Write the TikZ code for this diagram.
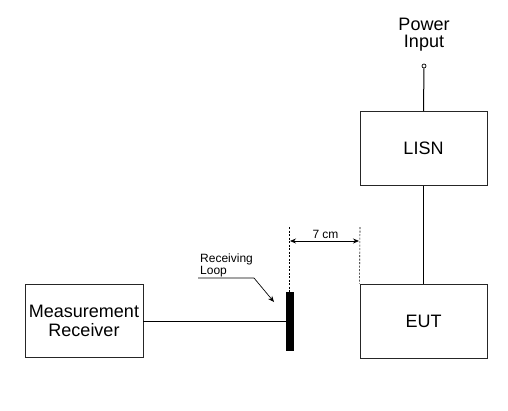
\documentclass[tikz,border=0pt]{standalone}
\usepackage{fontspec}
\setmainfont{Liberation Sans}
\usetikzlibrary{arrows.meta}
\begin{document}
\begin{tikzpicture}[x=1pt,y=-1pt,
  box/.style={draw=black!85,line width=0.9pt,minimum width=127pt,minimum height=74pt,inner sep=0pt,font=\fontsize{18}{19}\selectfont,align=center},
  wire/.style={draw=black,line width=1pt},
  dim/.style={draw=black,line width=0.6pt,dash pattern=on 2pt off 1.5pt},
  lbl/.style={font=\fontsize{12}{12.5}\selectfont,inner sep=0pt}]
\useasboundingbox (0,0) rectangle (508,410);
\node[box,minimum width=118pt,minimum height=73pt] (mr) at (84,320.5) {Measurement\\Receiver};
\node[box] (lisn) at (423.5,148.5) {LISN};
\node[box] (eut) at (423.5,321) {EUT};
\node[draw=black,line width=0.7pt,circle,inner sep=0pt,minimum size=4pt] (pin) at (424,66) {};
\node[font=\fontsize{18}{17}\selectfont,align=center,inner sep=0pt] (pwr) at (424,35) {Power\\Input};
\node[fill=black,inner sep=0pt,minimum width=8pt,minimum height=59pt] (loop) at (290,321.5) {};
\draw[wire] (pin) -- (lisn.north);
\draw[wire] (lisn.south) -- (eut.north);
\draw[wire] (mr.east |- loop.west) -- (loop.west);
\coordinate (dl) at (289,227);
\coordinate (dr) at (360,227);
\draw[dim] (dl) -- (loop.north -| dl);
\draw[dim] (dr) -- (eut.north west);
\coordinate (al) at (290,241);
\coordinate (ar) at (359,241);
\draw[line width=0.8pt,{Stealth[length=6pt,width=5pt]}-{Stealth[length=6pt,width=5pt]}] (al) -- (ar);
\node[lbl] (sev) at (325.5,234) {7 cm};
\node[lbl,align=left,anchor=west,font=\fontsize{12}{12.5}\selectfont] (rl) at (200,265.5) {Receiving\\Loop};
\coordinate (u1) at (198,278);
\coordinate (u2) at (254,278);
\coordinate (tip) at (274,302);
\draw[line width=0.7pt,-{Stealth[length=6pt,width=5pt]}] (u1) -- (u2) -- (tip);
\end{tikzpicture}
\end{document}
